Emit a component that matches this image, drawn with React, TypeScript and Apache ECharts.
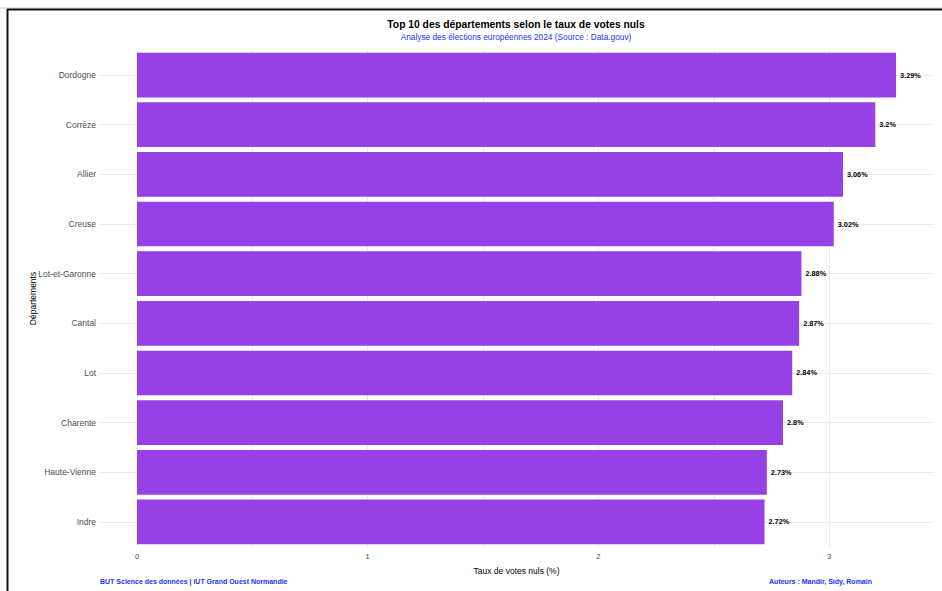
import React, { useEffect, useRef } from "react";
import * as echarts from "echarts";

const departements = [
  "Dordogne",
  "Corrèze",
  "Allier",
  "Creuse",
  "Lot-et-Garonne",
  "Cantal",
  "Lot",
  "Charente",
  "Haute-Vienne",
  "Indre",
];
const tauxNuls = [3.29, 3.2, 3.06, 3.02, 2.88, 2.87, 2.84, 2.8, 2.73, 2.72];
const xTickLabels = [0, 1, 2, 3];
const xGridValues = [0, 0.5, 1, 1.5, 2, 2.5, 3];

const titleText = "Top 10 des départements selon le taux de votes nuls";
const subtitleText = "Analyse des élections européennes 2024 (Source : Data.gouv)";
const captionLeft = "BUT Science des données | IUT Grand Ouest Normandie";
const captionRight = "Auteurs : Mandir, Sidy, Romain";

const FONT = "'Liberation Sans', Arial, Helvetica, sans-serif";
const BLUE = "#1a33ff";

export default function App() {
  const ref = useRef<HTMLDivElement>(null);
  useEffect(() => {
    if (!ref.current) return;
    const chart = echarts.init(ref.current, undefined, { renderer: "svg" });
    const dataMax = Math.max(...tauxNuls);
    const pad = dataMax * 0.05;
    chart.setOption({
      animation: false,
      backgroundColor: "#ffffff",
      textStyle: { fontFamily: FONT },
      grid: { left: 99, right: 8, top: 50.2, bottom: 44.2, containLabel: false },
      xAxis: {
        type: "value",
        min: -pad,
        max: dataMax + pad,
        name: "Taux de votes nuls (%)",
        nameLocation: "middle",
        nameGap: 20,
        nameMoveOverlap: false,
        nameTextStyle: { fontSize: 8.5, color: "#000", fontFamily: FONT },
        axisLine: { show: false },
        axisTick: { show: false, customValues: xGridValues },
        axisLabel: {
          customValues: xTickLabels,
          fontSize: 7.5,
          color: "#4d4d4d",
          margin: 6,
          fontFamily: FONT,
        },
        splitLine: { show: true, lineStyle: { color: "#ebebeb", width: 1 } },
      },
      yAxis: {
        type: "category",
        inverse: true,
        data: departements,
        name: "Départements",
        nameLocation: "middle",
        nameGap: 66,
        nameMoveOverlap: false,
        nameRotate: 90,
        nameTextStyle: { fontSize: 8.5, color: "#000", fontFamily: FONT, verticalAlign: "middle" },
        axisLine: { show: false },
        axisTick: { show: false },
        axisLabel: { fontSize: 8.5, color: "#4d4d4d", margin: 3, fontFamily: FONT },
        splitLine: { show: false },
      },
      series: [
        {
          type: "bar",
          data: tauxNuls,
          barWidth: "90%",
          itemStyle: { color: "#9640e5" },
          label: {
            show: true,
            position: "right",
            distance: 4,
            formatter: (p: any) => `${p.value}%`,
            fontSize: 7.3,
            fontWeight: "bold",
            color: "#000",
            fontFamily: FONT,
          },
          markLine: {
            silent: true,
            symbol: "none",
            label: { show: false },
            lineStyle: { color: "#ebebeb", width: 1, type: "solid" },
            z: 0,
            data: departements.map((d) => ({ yAxis: d })),
          },
          z: 2,
        },
      ],
      graphic: [
        {
          type: "line",
          shape: { x1: 0, y1: 8, x2: 942, y2: 8 },
          style: { stroke: "#cfcfcf", lineWidth: 1 },
          silent: true,
        },
        {
          type: "line",
          shape: { x1: 7, y1: 9.5, x2: 942, y2: 9.5 },
          style: { stroke: "#111", lineWidth: 2 },
          silent: true,
        },
        {
          type: "line",
          shape: { x1: 7.5, y1: 9, x2: 7.5, y2: 591 },
          style: { stroke: "#111", lineWidth: 2 },
          silent: true,
        },
        {
          type: "text",
          x: 516,
          y: 24,
          style: {
            text: titleText,
            fontSize: 10.3,
            fontWeight: "bold",
            fill: "#000",
            align: "center",
            verticalAlign: "middle",
            fontFamily: FONT,
          },
        },
        {
          type: "text",
          x: 516,
          y: 37,
          style: {
            text: subtitleText,
            fontSize: 8.3,
            fill: BLUE,
            align: "center",
            verticalAlign: "middle",
            fontFamily: FONT,
          },
        },
        {
          type: "text",
          x: 100,
          y: 581,
          style: {
            text: captionLeft,
            fontSize: 7,
            fontWeight: "bold",
            fill: BLUE,
            align: "left",
            verticalAlign: "middle",
            fontFamily: FONT,
          },
        },
        {
          type: "text",
          x: 872,
          y: 581,
          style: {
            text: captionRight,
            fontSize: 7,
            fontWeight: "bold",
            fill: BLUE,
            align: "right",
            verticalAlign: "middle",
            fontFamily: FONT,
          },
        },
      ],
    });
    return () => chart.dispose();
  }, []);
  return (
    <div
      ref={ref}
      style={{ position: "fixed", left: 0, top: 0, width: 942, height: 591 }}
    />
  );
}
